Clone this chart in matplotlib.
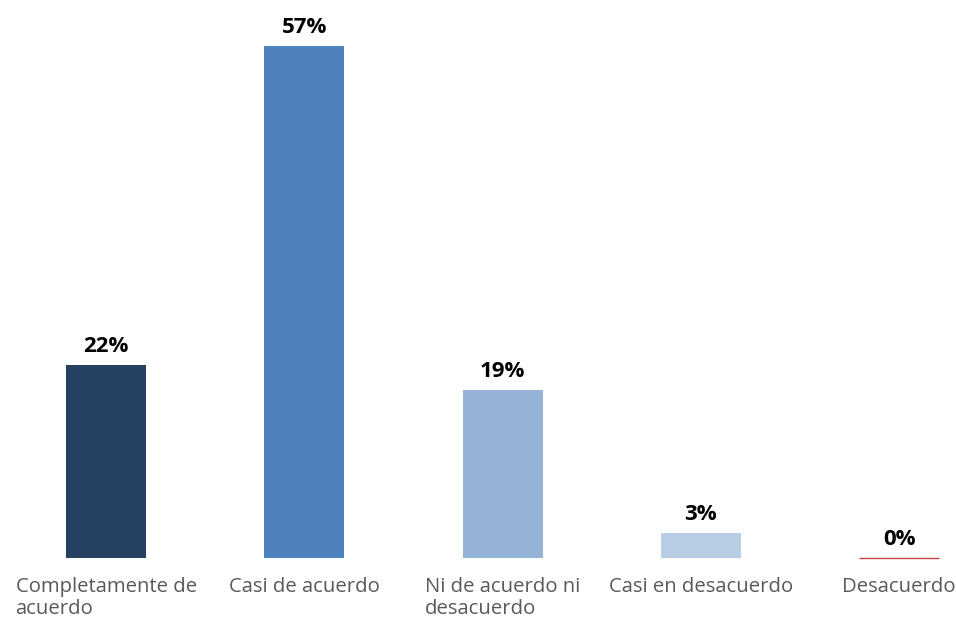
import numpy as np
import matplotlib.pyplot as plt

# survey answers (share of respondents, %)
categories = ["Completamente de\nacuerdo", "Casi de acuerdo", "Ni de acuerdo ni\ndesacuerdo",
              "Casi en desacuerdo", "Desacuerdo"]
values = [21.6, 57.4, 18.8, 2.8, 0.0]
colors = ["#264061", "#4F81BD", "#95B3D7", "#B9CDE5", "#C9413E"]

plt.rcParams['font.family'] = ['Open Sans', 'DejaVu Sans']

fig = plt.figure(figsize=(9.56, 6.2), dpi=100)
ax = fig.add_axes([0, 0.1, 1, 0.9])

x = np.arange(len(categories))
# zero-valued bars only show as a thin red line at the baseline
edge = [c if v == 0 else "none" for c, v in zip(colors, values)]
lw = [1.0 if v == 0 else 0 for v in values]
bars = ax.bar(x, values, width=0.403, color=colors, edgecolor=edge, linewidth=lw, clip_on=False)

for b, v in zip(bars, values):
    ax.annotate(f"{v:.0f}%", (b.get_x() + b.get_width() / 2, b.get_height()),
                xytext=(0, 6), textcoords="offset points", ha="center", va="bottom",
                fontsize=16, fontweight="bold", color="black")

ax.set_xlim(-0.535, 4.287)
ax.set_ylim(0, 62.55)
ax.set_xticks(x)
ax.set_xticklabels(categories, fontsize=14.6, color="#595959", multialignment="left",
                   linespacing=1.1)
ax.tick_params(axis="x", length=0, pad=14)
ax.set_yticks([])
for s in ax.spines.values():
    s.set_visible(False)

fig.savefig("out.png", dpi=100)
